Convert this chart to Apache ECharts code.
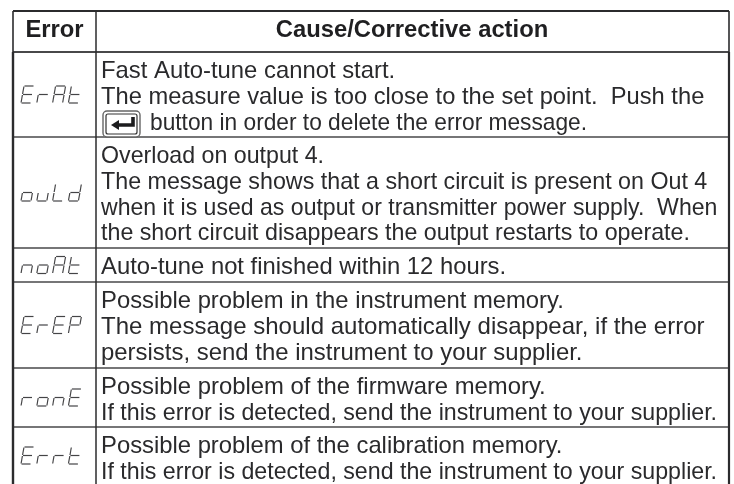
<!DOCTYPE html>
<html><head><meta charset="utf-8">
<style>html,body{margin:0;padding:0;background:#fff}#c{width:734px;height:484px}</style>
<script src="https://cdn.jsdelivr.net/npm/echarts@6/dist/echarts.min.js"></script>
</head><body><div id="c"></div>
<script>
const headers = ['Error', 'Cause/Corrective action'];
const errorCodes = ['ErAt', 'ouLd', 'noAt', 'ErEP', 'ronE', 'Errt'];
const causes = [
  ['Fast Auto-tune cannot start.', 'The measure value is too close to the set point.  Push the', 'button in order to delete the error message.'],
  ['Overload on output 4.', 'The message shows that a short circuit is present on Out 4', 'when it is used as output or transmitter power supply.  When', 'the short circuit disappears the output restarts to operate.'],
  ['Auto-tune not finished within 12 hours.'],
  ['Possible problem in the instrument memory.', 'The message should automatically disappear, if the error', 'persists, send the instrument to your supplier.'],
  ['Possible problem of the firmware memory.', 'If this error is detected, send the instrument to your supplier.'],
  ['Possible problem of the calibration memory.', 'If this error is detected, send the instrument to your supplier.']
];
const rowLines = [11, 52, 137, 248, 282, 368, 427, 484];
const colLines = [13, 96, 729];
const lineFit = [[1.028, 1.022, 0.98], [1.0, 1.003, 0.995, 1.002], [1.027], [1.027, 1.036, 1.032], [1.028, 1.0], [1.027, 1.0]];
const INK = '#2b2b2d';
// seven segment map: a top, b upper right, c lower right, d bottom, e lower left, f upper left, g middle
const SEG = {E:'adefg', r:'eg', A:'abcefg', t:'defg', o:'cdeg', u:'cde', L:'def', d:'bcdeg', n:'ceg', P:'abefg'};
const chart = echarts.init(document.getElementById('c'), null, {renderer:'canvas'});

function segs(ch, x, y, w, h, sk) {
  const P = (u, v) => [x + u * w + (1 - v) * sk, y + v * h];
  const gu = 0.05, gv = 0.03;
  const m = {a:[[gu,0],[1-gu,0]], b:[[1,gv],[1,.5-gv]], c:[[1,.5+gv],[1,1-gv]], d:[[gu,1],[1-gu,1]], e:[[0,.5+gv],[0,1-gv]], f:[[0,gv],[0,.5-gv]], g:[[gu,.5],[1-gu,.5]]};
  return SEG[ch].split('').map(s => { const a=P(...m[s][0]), b=P(...m[s][1]);
    return {type:'line', silent:true, shape:{x1:a[0], y1:a[1], x2:b[0], y2:b[1]},
    style:{stroke:'#444446', lineWidth:1.2}}; });
}
function pt(api, x, y) { return api.coord([x, y]); }

const rows = errorCodes.map((c, i) => [i]);
chart.setOption({
  animation:false,
  grid:{left:0, right:0, top:0, bottom:0},
  xAxis:{type:'value', min:0, max:734, show:false},
  yAxis:{type:'value', min:0, max:484, inverse:true, show:false},
  series:[
    {type:'custom', coordinateSystem:'cartesian2d', silent:true, clip:false, data:[[0]],
     renderItem(p, api){
       const ch = [];
       const L = (x1,y1,x2,y2,w,c) => { const a=pt(api,x1,y1), b=pt(api,x2,y2);
         ch.push({type:'line', shape:{x1:a[0],y1:a[1],x2:b[0],y2:b[1]}, style:{stroke:c||INK,lineWidth:w}}); };
       const top = rowLines[0], bot = rowLines[rowLines.length-1];
       rowLines.forEach((y,i)=>{ if(i<rowLines.length-1) L(colLines[0], y, colLines[2], y, i===0?2:(i===1?2:1.4), i===0?INK:'#48484a'); });
       L(colLines[0], top, colLines[0], rowLines[1], 1.6);
       L(colLines[0], rowLines[1], colLines[0], bot, 2.4);
       L(colLines[1], top, colLines[1], bot, 1.5);
       L(colLines[2], top, colLines[2], rowLines[1], 1.6);
       L(colLines[2], rowLines[1], colLines[2], bot, 2.2);
       return {type:'group', children:ch};
     }},
    {type:'custom', coordinateSystem:'cartesian2d', silent:true, clip:false, data:[[0],[1]],
     renderItem(p, api){
       const i = api.value(0);
       const cx = (colLines[i]+colLines[i+1])/2, a = pt(api, cx, (rowLines[0]+rowLines[1])/2);
       return {type:'text', style:{text:headers[i], x:a[0]+(i?-0.5:0), y:a[1]-1.5, align:'center', verticalAlign:'middle', fill:'#1f1f21', font:'bold 23.8px "Liberation Sans"'}};
     }},
    {type:'custom', coordinateSystem:'cartesian2d', silent:true, clip:false, data:rows,
     renderItem(p, api){
       const i = api.value(0), ch = [];
       const lines = causes[i];
       const first = rowLines[i+1] + 19.7;
       lines.forEach((t, k) => {
         const indent = (i===0 && k===2) ? 49 : 0;
         const a = pt(api, colLines[1]+5+indent, first + k*25.8);
         ch.push({type:'text', x:a[0], y:a[1], scaleX:lineFit[i][k], scaleY:1,
           style:{text:t, x:0, y:0, align:'left', verticalAlign:'middle', fill:'#2a2a2c', font:'23.2px "Liberation Sans"'}});
       });
       const mid = (rowLines[i+1]+rowLines[i+2])/2;
       const code = errorCodes[i];
       for (let n=0;n<code.length;n++) {
         const o = pt(api, 21 + n*15.8, mid - 8.5);
         ch.push(...segs(code[n], o[0], o[1], 10, 17, 3));
       }
       return {type:'group', children:ch};
     }},
    {type:'custom', coordinateSystem:'cartesian2d', silent:true, clip:false, data:[[0]],
     renderItem(p, api){
       const o = pt(api, 103, 111);
       const x=o[0], y=o[1];
       return {type:'group', children:[
         {type:'rect', shape:{x:x, y:y, width:37, height:26, r:4}, style:{fill:'#fff', stroke:'#666', lineWidth:1.4}},
         {type:'rect', shape:{x:x+3, y:y+3, width:31, height:20, r:2}, style:{fill:'#fff', stroke:'#333', lineWidth:1.2}},
         {type:'polyline', shape:{points:[[x+30,y+6],[x+30,y+14],[x+15,y+14]]}, style:{fill:'none', stroke:'#1c1c1e', lineWidth:3.6}},
         {type:'polygon', shape:{points:[[x+8,y+14],[x+16,y+9],[x+16,y+19]]}, style:{fill:'#1c1c1e'}}
       ]};
     }}
  ]
});
</script></body></html>
